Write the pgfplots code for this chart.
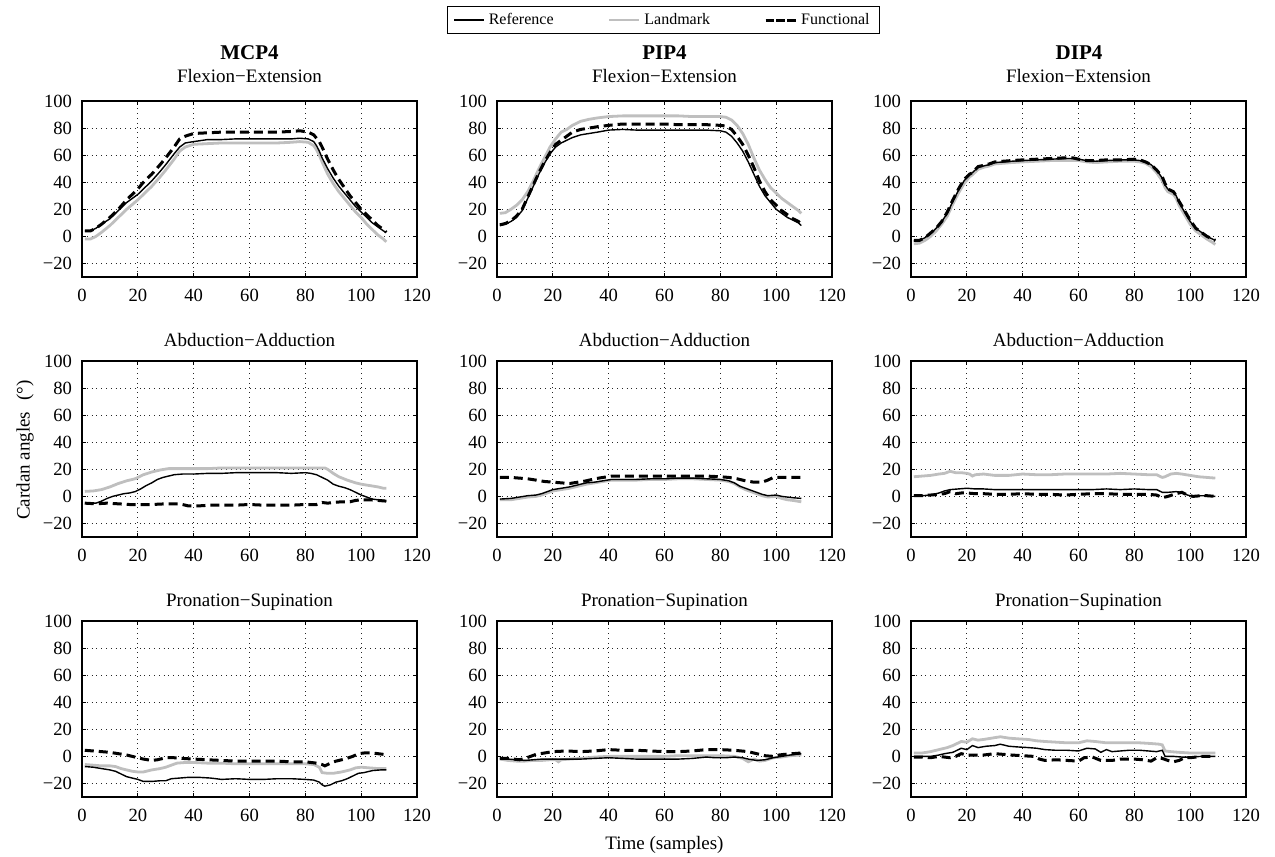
\documentclass[border=0pt]{standalone}
\usepackage{fontspec}
\setmainfont{Liberation Serif}
\usepackage{pgfplots}
\pgfplotsset{compat=1.18}
\pgfplotsset{
  myax/.style={
    scale only axis, width=167.5pt, height=88pt, anchor=north west,
    xmin=0, xmax=120, ymin=-30, ymax=100,
    xtick={0,20,...,120}, ytick={-20,0,...,100},
    xticklabels={0,20,40,60,80,100,120},
    yticklabels={−20,0,20,40,60,80,100},
    grid=major, major grid style={dotted, black!85, line width=0.5pt},
    tick align=inside, major tick length=2pt,
    tick style={black, line width=0.5pt},
    axis line style={line width=0.6pt},
    ticklabel style={font=\fontsize{9.3}{10}\selectfont},
    xticklabel style={yshift=-2.5pt},
    yticklabel style={xshift=-1.5pt},
    title style={font=\fontsize{9.5}{10}\selectfont, anchor=base, at={(0.5,1)}, yshift=1pt},
    legend image code/.code={\draw[##1] (0pt,0pt) -- (15pt,0pt);},
  },
  refl/.style={black, line width=0.7pt},
  landl/.style={black!25, line width=1.4pt},
  funcl/.style={black, line width=1.5pt, dash pattern=on 4.5pt off 2.5pt},
}
\begin{document}
\begin{tikzpicture}
\path[use as bounding box] (0,0) rectangle (637.5pt,428.5pt);
% ---------- Row 1 ----------
\begin{axis}[myax, at={(41pt,378pt)}, title={Flexion−Extension}, title style={yshift=2pt}]
\addplot[landl] coordinates {(1,-2)(3,-2)(5,0)(7,3)(10,8)(13,14)(16,20)(20,27)(22,31)(25,37)(28,44)(30,49)(33,57)(35,63)(37,66)(40,68)(45,68.5)(50,69)(55,69)(60,69)(65,69)(70,69)(75,69.5)(78,70)(81,69.5)(83,67)(84,64)(85,60)(86,55)(88,46)(90,39)(92,33)(94,28)(96,23)(98,18)(100,14)(102,9)(104,5)(106,1)(108,-2)(109,-4)};
\addplot[refl] coordinates {(1,4)(3,4)(5,6)(7,9)(10,13)(13,19)(16,25)(20,31)(22,35)(25,41)(28,48)(30,53)(33,61)(35,66)(37,69)(40,70)(45,71.5)(50,71.5)(55,72)(60,72)(65,72)(70,72)(75,72)(78,72.5)(81,72)(83,70)(84,67)(85,63)(86,58)(88,50)(90,43)(92,37)(94,32)(96,27)(98,22)(100,18)(102,14)(104,10)(106,7)(108,4)(109,3)};
\addplot[funcl] coordinates {(1,4)(3,4)(5,6)(7,9)(10,14)(13,20)(16,27)(20,35)(22,40)(25,46)(28,53)(30,58)(33,66)(35,72)(37,74)(40,76)(45,76.5)(50,77)(55,77)(60,77)(65,77)(70,77)(75,77.5)(78,78)(81,77)(83,75)(85,70)(86,66)(88,57)(90,49)(92,42)(94,36)(96,30)(98,25)(100,20)(102,16)(104,12)(106,8)(108,5)(109,3)};
\end{axis}
\begin{axis}[myax, at={(248.5pt,378pt)}, title={Flexion−Extension}, title style={yshift=2pt},
  legend columns=3,
  legend style={at={(0.497,1.46)}, anchor=center, draw=black, line width=0.6pt,
    font=\fontsize{8}{9.6}\selectfont, inner xsep=3pt, inner ysep=1pt,
    /tikz/every even column/.append style={column sep=25pt}}]
\addlegendimage{refl}\addlegendentry{Reference}
\addlegendimage{landl}\addlegendentry{Landmark}
\addlegendimage{black, line width=1.5pt, dash pattern=on 4.3pt off 1.05pt}\addlegendentry{Functional}
\addplot[landl, forget plot] coordinates {(1,17)(3,17.5)(5,20)(7,23)(9,27)(11,33)(13,41)(15,50)(17,58)(19,66)(21,72)(23,77)(25,79)(27,82)(30,85)(33,86.5)(36,87.5)(40,88.5)(45,89)(50,89)(55,89)(60,89)(65,89)(70,88.5)(75,88.5)(80,88.5)(82,88)(84,86)(86,82)(88,76)(90,68)(92,58)(94,49)(96,42)(98,36)(100,32)(102,28)(104,25)(106,22)(108,19)(109,17)};
\addplot[refl, forget plot] coordinates {(1,8)(3,9)(5,11)(7,14)(9,19)(11,28)(13,37)(15,46)(17,54)(19,61)(21,66)(23,69)(25,71)(27,73)(30,75)(33,76)(36,77)(40,78.5)(45,79)(50,78.5)(55,78.5)(60,78.5)(65,78.5)(70,78.5)(75,78.5)(80,78)(82,77)(84,74)(86,69)(88,63)(90,55)(92,46)(94,37)(96,30)(98,25)(100,20)(102,17)(104,14)(106,12)(108,10)(109,8)};
\addplot[funcl, forget plot] coordinates {(1,8.5)(3,9.5)(5,11.5)(7,15)(9,20)(11,29)(13,38)(15,47)(17,55)(19,62)(21,68)(23,71)(25,74)(27,77)(30,79)(33,80)(36,81)(40,82)(45,83)(50,83)(55,83)(60,83)(65,82.5)(70,82.5)(75,82.5)(80,82)(82,81.5)(84,79)(86,74)(88,68)(90,60)(92,51)(94,41)(96,33)(98,27)(100,23)(102,19)(104,16)(106,13)(108,11)(109,9)};
\end{axis}
\begin{axis}[myax, at={(455.5pt,378pt)}, title={Flexion−Extension}, title style={yshift=2pt}]
\addplot[landl] coordinates {(1,-5.5)(3,-5)(5,-3)(7,0)(9,4)(11,9)(13,15)(15,24)(17,32)(19,39)(21,44)(22,45.5)(24,49.5)(26,51)(28,52)(30,53.5)(33,54)(36,54.5)(40,55)(45,55.5)(50,56)(55,56)(58,56)(60,56)(63,55)(66,54.5)(70,55)(75,55.5)(80,55.5)(82,55)(84,54)(86,51.5)(88,47)(90,41)(91,36)(92,33)(94,31)(95,28)(96,23)(98,16)(100,9)(102,4)(104,1)(106,-2)(108,-4.5)(109,-6)};
\addplot[refl] coordinates {(1,-3.5)(3,-3)(5,-1)(7,2)(9,6)(11,11)(13,17)(15,26)(17,34)(19,41)(21,46)(22,47)(24,51)(26,52)(28,53)(30,54.5)(33,55)(36,55.5)(40,56)(45,56.5)(50,57)(55,57.5)(58,57.5)(60,57)(63,56)(66,55.5)(70,56)(75,56.5)(80,56.5)(82,56)(84,55)(86,53)(88,49)(90,43)(91,38)(92,35)(94,33)(95,30)(96,25)(98,18)(100,11)(102,6)(104,3)(106,0)(108,-2)(109,-3)};
\addplot[funcl] coordinates {(1,-3)(3,-3)(5,-1)(7,2.5)(9,6)(11,11)(13,18)(15,27)(17,35)(19,42)(21,46)(22,47)(24,51.5)(26,52.5)(28,53.5)(30,55)(33,55.5)(36,56)(40,56.5)(45,57)(50,57.5)(55,58)(58,58)(60,57)(63,56)(66,56)(70,56.5)(75,56.5)(80,57)(82,56.5)(84,55)(86,53)(88,49)(90,44)(91,39)(92,35)(94,33)(95,30)(96,26)(98,19)(100,12)(102,6)(104,3)(106,0)(108,-2)(109,-3)};
\end{axis}
% ---------- Row 2 ----------
\begin{axis}[myax, at={(41pt,248pt)}, title={Abduction−Adduction}]
\addplot[landl] coordinates {(1,3.7)(4,4)(7,5)(10,7)(13,9.5)(16,11.5)(19,13)(22,16)(25,18)(28,19.5)(31,20.5)(35,20.5)(40,20.5)(45,20.5)(50,21)(55,21)(60,21)(65,21)(70,21)(75,21)(80,21)(85,21)(87,21)(88,20)(90,17)(92,14.5)(95,12)(98,10)(100,9)(103,8)(106,7)(108,6)(109,6)};
\addplot[refl] coordinates {(1,-5)(3,-5)(5,-5)(7,-3.5)(9,-1.5)(11,0)(13,1)(15,2)(17,2.5)(19,3.5)(21,5.5)(23,8)(25,10)(27,12.5)(29,14)(31,15)(33,16)(36,16.5)(40,16.5)(45,17)(50,17)(55,17.5)(60,17.5)(65,17.5)(70,17.5)(75,17)(80,17.5)(82,17)(84,16)(86,14)(88,12)(90,9)(92,7.5)(94,6.5)(96,5)(98,3)(100,1)(102,-0.5)(104,-2)(106,-2.5)(108,-3)(109,-3.5)};
\addplot[funcl] coordinates {(1,-5)(5,-5.5)(9,-5)(13,-5.5)(17,-6)(21,-6)(25,-6)(30,-5.5)(35,-5.5)(38,-7)(42,-7)(46,-6.5)(50,-6.5)(55,-6.5)(60,-6)(65,-6.5)(70,-6.5)(75,-6.5)(80,-6)(84,-6)(86,-4.5)(88,-5)(90,-4.5)(93,-4)(96,-4)(98,-3)(100,-2.5)(103,-2.5)(106,-3)(109,-3.5)};
\end{axis}
\begin{axis}[myax, at={(248.5pt,248pt)}, title={Abduction−Adduction}]
\addplot[landl] coordinates {(1,-2.5)(5,-2.5)(8,-1.5)(11,-0.5)(14,0)(16,1)(18,2.5)(20,4)(23,5)(26,6)(29,7.5)(32,9)(35,10)(38,11)(41,12)(45,12)(50,12)(55,12.5)(60,12.5)(65,13)(70,13)(75,12.5)(80,12)(83,11)(85,9.5)(87,7)(89,5)(91,3.5)(93,2)(95,0.5)(97,-0.5)(100,0)(102,-1.5)(104,-2.5)(106,-3)(109,-4)};
\addplot[refl] coordinates {(1,-2)(5,-1.5)(8,-0.5)(11,0.5)(14,1)(16,2)(18,3.5)(20,5)(23,6)(26,7)(29,8.5)(32,10)(35,10.5)(38,11.5)(41,12.5)(45,12.5)(50,12.5)(55,13)(60,13)(65,13.5)(70,13.5)(75,13)(80,12.5)(83,11.5)(85,10)(87,7.5)(89,6)(91,4.5)(93,3)(95,1.5)(97,0.5)(100,1)(102,0)(104,-0.5)(106,-1)(109,-1.5)};
\addplot[funcl] coordinates {(1,14)(5,14)(8,13.5)(11,13)(14,12)(17,11)(20,10.5)(23,10)(26,9.5)(29,10.5)(32,11.5)(35,13)(38,14)(41,15)(45,15)(50,15)(55,15)(60,15)(65,15)(70,15)(75,15)(80,14.5)(83,14)(86,13)(89,11.5)(92,10.5)(95,10.5)(97,12)(99,14)(102,14)(106,14)(109,14)};
\end{axis}
\begin{axis}[myax, at={(455.5pt,248pt)}, title={Abduction−Adduction}]
\addplot[landl] coordinates {(1,14.5)(4,15)(7,15.5)(10,16.5)(12,17)(14,18.5)(16,17.5)(18,17.5)(20,17)(21,16.5)(22,15)(23,16)(26,16.5)(30,15.5)(35,15.5)(40,16.5)(45,16)(50,16)(55,16.5)(60,16.5)(65,16.5)(70,16.5)(75,17)(80,16.5)(85,16)(88,16)(89,15)(90,14)(91,14.5)(93,16.5)(95,17)(97,16.5)(100,15.5)(103,14.5)(106,14)(109,13.5)};
\addplot[refl] coordinates {(1,0.5)(4,0.5)(7,1)(10,2.5)(12,4)(14,5)(17,5.5)(20,6)(23,5.5)(26,5.5)(30,5)(35,5)(40,5)(45,5)(50,5)(55,5)(60,5)(65,5)(70,5.5)(75,5)(80,5.5)(85,5)(88,5)(90,3)(92,3)(95,3.5)(97,3)(99,1)(101,0)(104,0.5)(106,0.5)(109,0)};
\addplot[funcl] coordinates {(1,0.5)(4,0.5)(7,1)(10,1.5)(12,2)(14,3.5)(16,2)(18,2.5)(20,2.5)(23,2)(26,2)(30,1.5)(35,1.5)(40,2)(45,1.5)(50,1.5)(55,1)(60,1.5)(65,2)(70,2)(75,1.5)(80,1.5)(85,1.5)(88,1)(90,-1)(92,0)(95,2)(97,3)(99,1)(101,0)(104,0.5)(106,0.5)(109,0)};
\end{axis}
% ---------- Row 3 ----------
\begin{axis}[myax, at={(41pt,118pt)}, title={Pronation−Supination}]
\addplot[landl] coordinates {(1,-6)(4,-6.5)(7,-7)(10,-7)(12,-7.5)(14,-9)(16,-10)(18,-11)(20,-11.5)(22,-11.5)(25,-10)(28,-9)(30,-8)(32,-6.5)(34,-5)(37,-4.5)(40,-4.5)(45,-5)(50,-5)(55,-5.5)(60,-5.5)(65,-5.5)(70,-5.5)(75,-5.5)(80,-5.5)(83,-6)(85,-8)(86,-12)(88,-12.5)(90,-12.5)(93,-11.5)(96,-10)(98,-8.5)(100,-8)(103,-8.5)(106,-9)(109,-9)};
\addplot[refl] coordinates {(1,-7.5)(4,-8)(7,-9)(10,-10)(12,-11)(14,-13)(16,-15)(18,-16)(20,-17)(22,-18.5)(25,-18.5)(28,-18)(30,-18)(32,-16.5)(35,-16)(38,-15.5)(42,-15.5)(46,-16)(50,-17)(55,-16.5)(60,-17)(65,-17)(70,-16.5)(75,-16.5)(80,-17)(83,-17.5)(85,-19)(86,-21)(87,-22)(89,-21)(91,-19)(93,-18)(95,-16.5)(97,-14.5)(99,-12.5)(101,-12)(104,-10.5)(107,-10)(109,-10)};
\addplot[funcl] coordinates {(1,4.5)(4,4)(7,3.5)(10,3)(13,2)(16,1)(19,-0.5)(22,-2)(25,-3)(27,-2.5)(30,-1)(33,-1)(36,-1.5)(40,-2)(45,-2.5)(50,-3)(55,-3.5)(60,-3.5)(65,-3.5)(70,-3.5)(75,-4)(80,-4)(84,-5)(86,-6)(87,-7)(89,-5)(91,-3.5)(94,-2)(97,0)(99,2)(101,2.5)(104,2.5)(106,2)(108,1.5)};
\end{axis}
\begin{axis}[myax, at={(248.5pt,118pt)}, title={Pronation−Supination}]
\addplot[landl] coordinates {(1,-2)(4,-3)(7,-3.5)(10,-3.5)(13,-3)(16,-3)(19,-2.5)(21,-2.5)(22,-4)(23,-2.5)(26,-2)(30,-1.5)(35,-0.5)(40,0)(45,0)(50,0)(55,0)(60,0)(65,0.5)(70,0.5)(75,0.5)(80,0.5)(85,0)(88,-1.5)(90,-4)(92,-2)(94,-3.5)(96,-3)(99,-1)(102,-0.5)(105,0.5)(109,1)};
\addplot[refl] coordinates {(1,-1.5)(4,-2)(7,-2.5)(10,-3)(13,-2.5)(16,-2)(20,-2)(25,-2)(30,-2)(35,-1.5)(40,-1)(45,-1.5)(50,-2)(55,-2)(60,-2)(65,-2)(70,-1.5)(75,-0.5)(78,-1)(82,-1)(85,-0.5)(88,-1)(90,-2)(93,-3)(96,-2.5)(99,-1)(102,0)(105,1)(107,1.5)(109,2)};
\addplot[funcl] coordinates {(1,-1.5)(4,-1.5)(6,-2)(8,-2.5)(10,-1.5)(12,0)(14,1.5)(17,2.5)(20,3.5)(25,4)(30,3.5)(35,4)(40,5)(45,4.5)(50,4.5)(55,4)(60,3.5)(65,3.5)(70,4)(75,5)(80,5)(85,4.5)(90,3.5)(93,2)(96,0.5)(99,0)(101,1)(103,1.5)(106,2)(109,2.5)};
\end{axis}
\begin{axis}[myax, at={(455.5pt,118pt)}, title={Pronation−Supination}]
\addplot[landl] coordinates {(1,2.5)(4,2.5)(7,3.5)(10,5)(13,6.5)(15,8)(17,10)(18,11)(20,10.5)(22,13)(24,12)(26,12.5)(29,13.5)(32,14.5)(35,13.5)(38,13)(42,12.5)(45,11.5)(48,11)(52,10.5)(56,10)(60,10)(63,11.5)(66,11)(70,10)(74,10)(78,10)(82,10)(86,9.5)(89,9)(90,8.5)(91,4)(93,3.5)(96,3)(100,2.5)(105,2.5)(109,2.5)};
\addplot[refl] coordinates {(1,0)(4,0)(7,0)(10,1)(12,2)(15,3)(17,5)(18,6)(20,5)(22,8)(24,6.5)(27,7.5)(30,8)(32,9)(35,7.5)(38,7)(42,6.5)(45,6)(48,5)(52,4.5)(56,4.5)(60,4)(63,6)(66,5.5)(68,3)(70,5)(72,3.5)(75,4)(78,4.5)(82,4.5)(85,4)(88,3.5)(90,4.5)(91,0)(94,0)(97,-0.5)(100,-0.5)(104,0)(109,0)};
\addplot[funcl] coordinates {(1,-0.5)(4,-0.5)(7,-1)(10,0)(12,-0.5)(14,-1)(16,0)(18,2)(20,1)(23,1)(26,1)(30,2)(33,1.5)(36,1)(40,0.5)(44,0)(46,-2)(48,-3)(52,-2.5)(56,-3)(60,-3.5)(62,-1)(65,-0.5)(68,-3)(72,-3)(75,-2)(80,-2)(83,-2.5)(86,-3.5)(88,-1)(90,-1.5)(92,-3)(94,-4)(96,-3)(98,-1)(100,-1)(104,0)(109,0)};
\end{axis}
% ---------- headers and axis labels ----------
\node[font=\fontsize{10.5}{12}\selectfont\bfseries, anchor=base] at (124.75pt,398.5pt) {MCP4};
\node[font=\fontsize{10.5}{12}\selectfont\bfseries, anchor=base] at (332.25pt,398.5pt) {PIP4};
\node[font=\fontsize{10.5}{12}\selectfont\bfseries, anchor=base] at (539.5pt,398.5pt) {DIP4};
\node[font=\fontsize{9.5}{10}\selectfont, rotate=90, anchor=center] at (12.5pt,203.5pt) {Cardan angles\hspace{0.6em}(°)};
\node[font=\fontsize{9.5}{10}\selectfont, anchor=center] at (332.25pt,6pt) {Time (samples)};
\end{tikzpicture}
\end{document}
